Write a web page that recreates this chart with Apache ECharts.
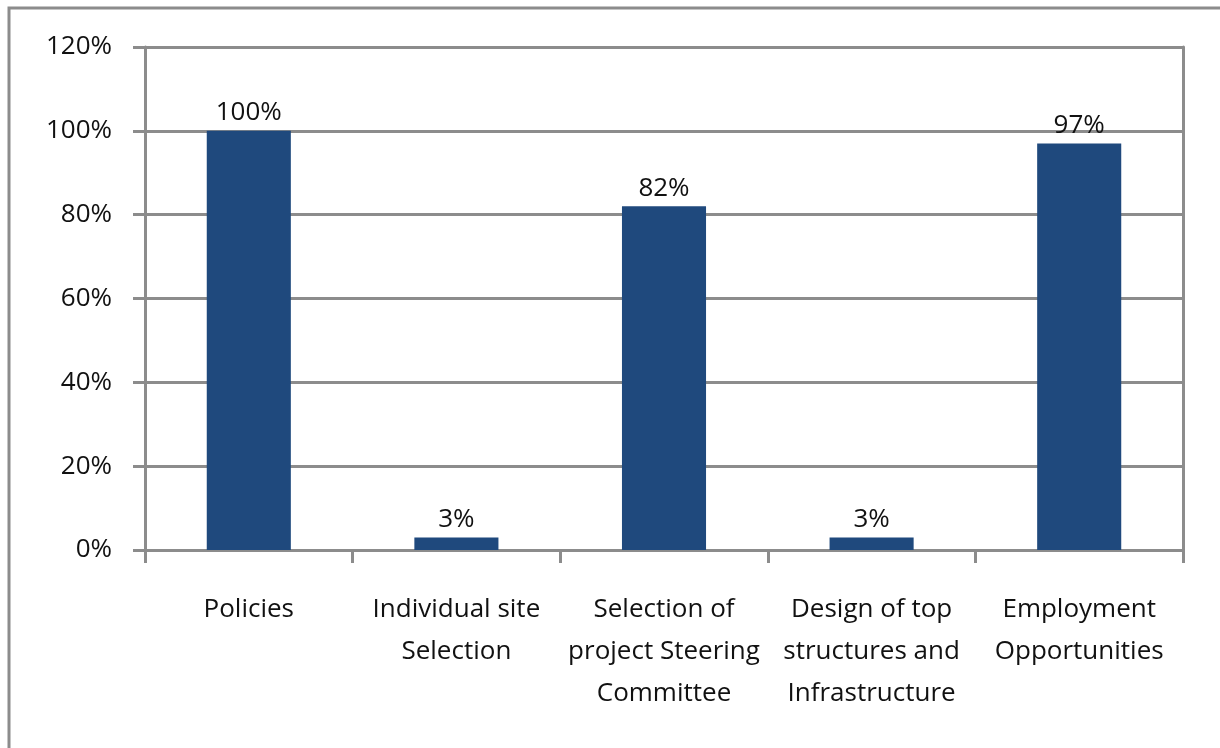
<!DOCTYPE html>
<html>
<head>
<meta charset="utf-8">
<script src="https://cdn.jsdelivr.net/npm/echarts@6/dist/echarts.min.js"></script>
<style>
  html, body { margin: 0; padding: 0; background: #ffffff; }
  #chart { width: 1220px; height: 748px; }
</style>
</head>
<body>
<div id="chart"></div>
<script>
// Survey categories and the share of respondents for each
const categories = [
  'Policies',
  'Individual site\nSelection',
  'Selection of\nproject Steering\nCommittee',
  'Design of top\nstructures and\nInfrastructure',
  'Employment\nOpportunities'
];
const shares = [100, 3, 82, 3, 97];
const yTicks = [0, 20, 40, 60, 80, 100, 120];

const lineColor = '#8c8c8c';
const barColor = '#1f497d';
const textColor = '#111111';
const fontFamily = '"Open Sans", "Noto Sans", sans-serif';
const fontSize = 26;

const chart = echarts.init(document.getElementById('chart'), null, { renderer: 'canvas' });

chart.setOption({
  animation: false,
  backgroundColor: '#ffffff',
  graphic: [{
    type: 'rect',
    shape: { x: 9, y: 8, width: 1240, height: 780 },
    style: { fill: 'none', stroke: lineColor, lineWidth: 3 },
    silent: true
  }],
  grid: { left: 145, right: 37, top: 47, bottom: 198, containLabel: false },
  xAxis: {
    type: 'category',
    data: categories,
    boundaryGap: true,
    axisLine: { show: true, lineStyle: { color: lineColor, width: 3 } },
    axisTick: { show: true, alignWithLabel: false, length: 13, lineStyle: { color: lineColor, width: 3 } },
    axisLabel: {
      interval: 0,
      margin: 39,
      color: textColor,
      fontFamily: fontFamily,
      fontSize: fontSize,
      lineHeight: 42
    },
    splitLine: { show: false }
  },
  yAxis: [{
    type: 'value',
    min: yTicks[0],
    max: yTicks[yTicks.length - 1],
    interval: 20,
    axisLine: { show: true, lineStyle: { color: lineColor, width: 3 } },
    axisTick: { show: true, inside: false, length: 12, lineStyle: { color: lineColor, width: 3 } },
    axisLabel: {
      margin: 33,
      color: textColor,
      fontFamily: fontFamily,
      fontSize: fontSize,
      formatter: v => v + '%'
    },
    splitLine: { show: true, lineStyle: { color: lineColor, width: 3 } }
  }, {
    type: 'value',
    position: 'right',
    min: yTicks[0],
    max: yTicks[yTicks.length - 1],
    interval: 20,
    axisLine: { show: true, lineStyle: { color: lineColor, width: 3 } },
    axisTick: { show: false },
    axisLabel: { show: false },
    splitLine: { show: false }
  }],
  series: [{
    type: 'bar',
    data: shares,
    barWidth: '40.5%',
    itemStyle: { color: barColor },
    label: {
      show: true,
      position: 'top',
      distance: 5,
      color: textColor,
      fontFamily: fontFamily,
      fontSize: fontSize,
      formatter: p => p.value + '%'
    }
  }]
});
</script>
</body>
</html>
